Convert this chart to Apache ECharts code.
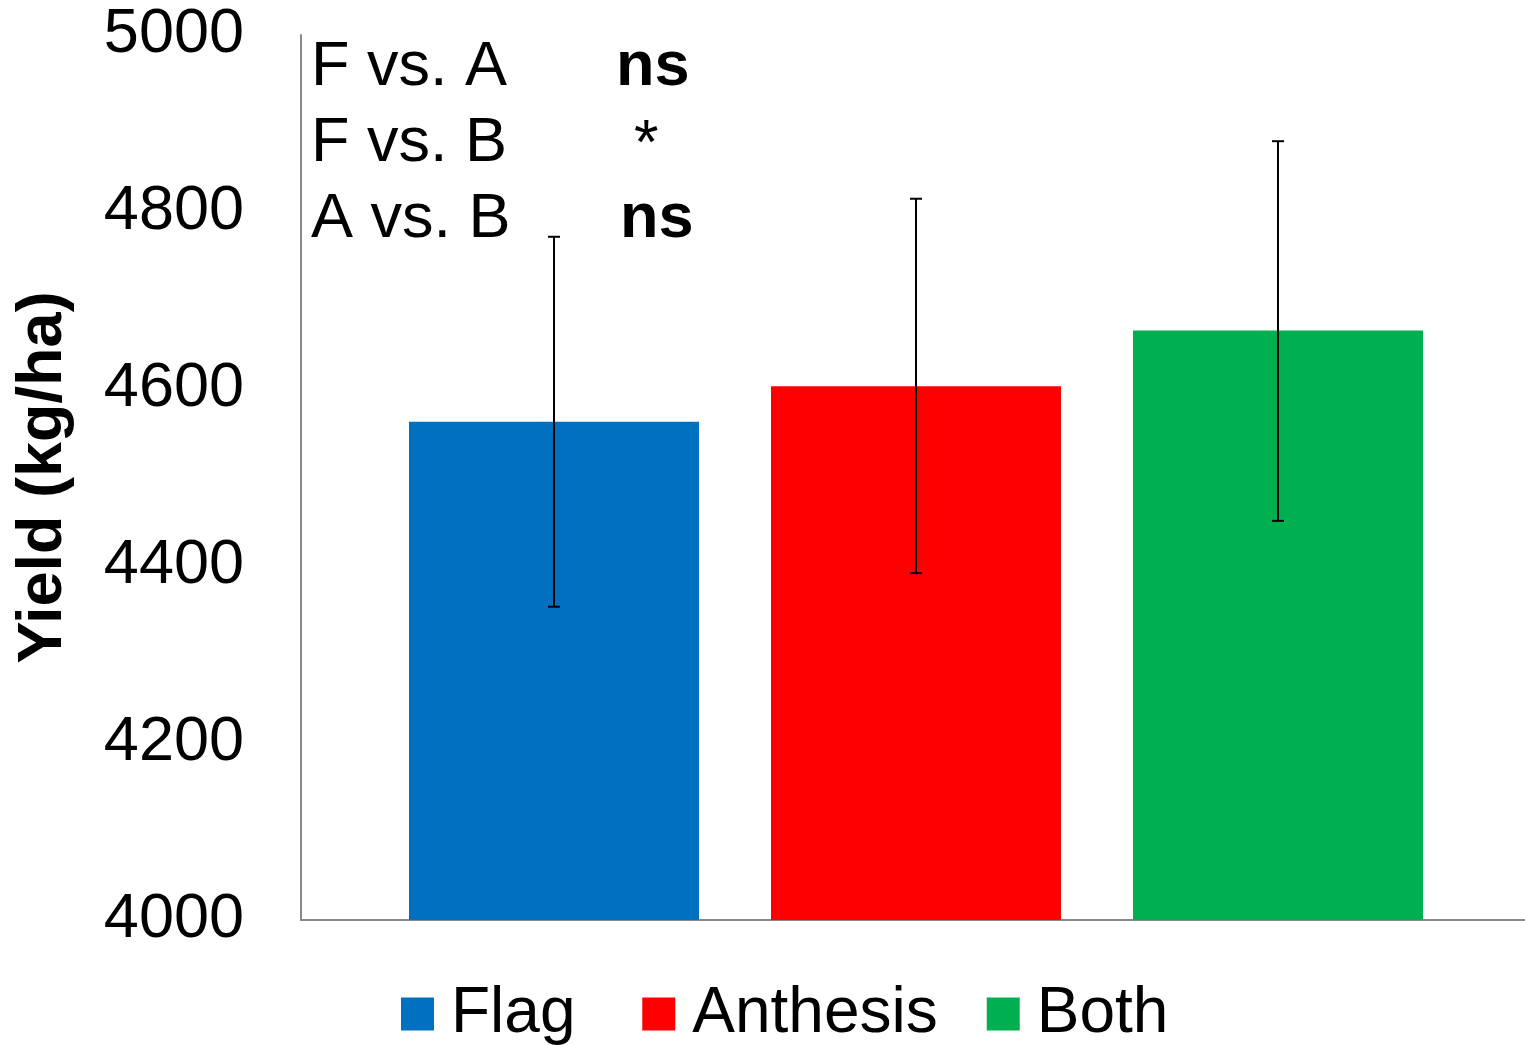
<!DOCTYPE html>
<html>
<head>
<meta charset="utf-8">
<script src="https://cdn.jsdelivr.net/npm/echarts@6/dist/echarts.min.js"></script>
<style>
  html, body { margin: 0; padding: 0; background: #fff; }
  #chart { width: 1525px; height: 1045px; }
</style>
</head>
<body>
<div id="chart"></div>
<script>
// Yield by fungicide timing, mean ± error
const groups = ['Flag', 'Anthesis', 'Both'];
const yieldMean = [4563, 4603, 4666];
const yieldLow = [4354, 4392, 4451];
const yieldHigh = [4772, 4815, 4880];
const barColors = ['#0070C0', '#FF0000', '#00B050'];
const yTicks = { min: 4000, max: 5000, interval: 200 };
const comparisons = ['F vs. A', 'F vs. B', 'A vs. B'];
const significance = ['ns', '*', 'ns'];

const FONT = '"Liberation Sans", Arial, sans-serif';
const BAR_W = 290;
const BAR_GAP_PX = 72;

const chart = echarts.init(document.getElementById('chart'));

const barSeries = groups.map((g, i) => ({
  name: g,
  type: 'bar',
  data: [yieldMean[i]],
  barWidth: BAR_W,
  barGap: (BAR_GAP_PX / BAR_W * 100) + '%',
  itemStyle: { color: barColors[i] },
  emphasis: { disabled: true }
}));

// error bars, shifted to sit on each bar of the single category
const errorSeries = groups.map((g, i) => ({
  type: 'custom',
  data: [[0, yieldLow[i], yieldHigh[i]]],
  z: 10,
  silent: true,
  renderItem: function (params, api) {
    const shift = (i - (groups.length - 1) / 2) * (BAR_W + BAR_GAP_PX);
    const lo = api.coord([api.value(0), api.value(1)]);
    const hi = api.coord([api.value(0), api.value(2)]);
    const x = lo[0] + shift;
    const cap = 6;
    const style = { stroke: '#000', lineWidth: 2 };
    return {
      type: 'group',
      children: [
        { type: 'line', shape: { x1: x, y1: lo[1], x2: x, y2: hi[1] }, style },
        { type: 'line', shape: { x1: x - cap, y1: lo[1], x2: x + cap, y2: lo[1] }, style },
        { type: 'line', shape: { x1: x - cap, y1: hi[1], x2: x + cap, y2: hi[1] }, style }
      ]
    };
  }
}));

const annotationText = [];
comparisons.forEach((c, i) => {
  const y = 67 + i * 76;
  annotationText.push({
    type: 'text', left: 311, top: y - 31,
    style: { text: c, font: '63px ' + FONT, fill: '#000' }
  });
  const isStar = significance[i] === '*';
  annotationText.push({
    type: 'text',
    left: isStar ? 634 : (i === 0 ? 616 : 620),
    top: isStar ? y - 29 : y - 31,
    style: { text: significance[i], font: (isStar ? '' : 'bold ') + '63px ' + FONT, fill: '#000' }
  });
});

chart.setOption({
  animation: false,
  grid: {
    left: 301, width: 1230, top: 35, bottom: 125,
    containLabel: false, outerBoundsMode: 'none'
  },
  xAxis: {
    type: 'category',
    data: ['Yield'],
    axisLine: { show: true, lineStyle: { color: '#898989', width: 2 } },
    axisTick: { show: false },
    axisLabel: { show: false },
    splitLine: { show: false }
  },
  yAxis: {
    type: 'value',
    min: yTicks.min,
    max: yTicks.max,
    interval: yTicks.interval,
    name: 'Yield (kg/ha)',
    nameLocation: 'middle',
    nameGap: 226,
    nameTextStyle: { fontFamily: FONT, fontSize: 63, fontWeight: 'bold', color: '#000' },
    axisLine: { show: true, lineStyle: { color: '#898989', width: 2 } },
    axisTick: { show: false },
    splitLine: { show: false },
    axisLabel: {
      fontFamily: FONT, fontSize: 63, color: '#000', margin: 57,
      formatter: (v) => String(v)
    }
  },
  legend: {
    data: groups,
    left: 401,
    top: 982,
    padding: 0,
    itemWidth: 33,
    itemHeight: 33,
    itemGap: 49,
    icon: 'rect',
    formatter: (name) => (name === 'Flag' ? name + ' ' : name),
    textStyle: { fontFamily: FONT, fontSize: 64, color: '#000', padding: [0, 0, 0, 12] },
    selectedMode: false
  },
  graphic: annotationText,
  series: barSeries.concat(errorSeries)
});
</script>
</body>
</html>
